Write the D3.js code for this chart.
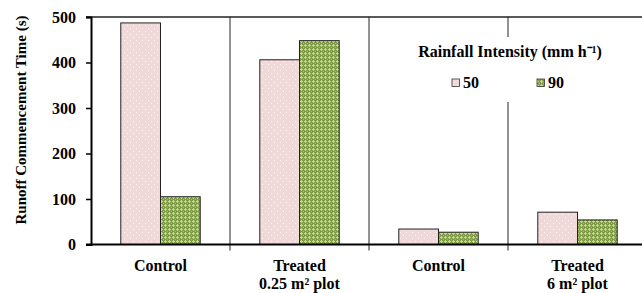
<!DOCTYPE html>
<html><head><meta charset="utf-8">
<script src="https://cdn.jsdelivr.net/npm/d3@7"></script>
<style>body{margin:0;background:#fff}svg{display:block}</style>
</head><body>
<script>
const categories = ["Control", "Treated|0.25 m² plot", "Control", "Treated|6 m² plot"];
const series = ["50", "90"];
const values50 = [487, 406, 34, 71];
const values90 = [105, 448, 27, 54];
const yTicks = [0, 100, 200, 300, 400, 500];
const yLabel = "Runoff Commencement Time (s)";
const legendTitle = "Rainfall Intensity (mm h\u207B\u00B9)";

const FONT = '"Liberation Serif", "Times New Roman", serif';
const W = 642, H = 293;
const m = {left: 91, top: 17, bottom: 244.5, right: 647};
const svg = d3.select("body").append("svg").attr("width", W).attr("height", H);
const txt = (sel, size) => sel.style("font-family", FONT).style("font-weight", "bold").style("font-size", size + "px").attr("fill", "#000");

const defs = svg.append("defs");
const pp = defs.append("pattern").attr("id","pinkP").attr("patternUnits","userSpaceOnUse").attr("width",6).attr("height",6);
pp.append("rect").attr("width",6).attr("height",6).attr("fill","#f1d9d9");
pp.append("rect").attr("x",1).attr("y",1).attr("width",1).attr("height",1).attr("fill","#fdf4f4");
pp.append("rect").attr("x",4).attr("y",4).attr("width",1).attr("height",1).attr("fill","#fdf4f4");
const gp = defs.append("pattern").attr("id","greenP").attr("patternUnits","userSpaceOnUse").attr("width",4).attr("height",4);
gp.append("rect").attr("width",4).attr("height",4).attr("fill","#7f9b48");
gp.append("rect").attr("x",1).attr("y",0).attr("width",1).attr("height",3).attr("fill","#c5d6a3");
gp.append("rect").attr("x",0).attr("y",1).attr("width",3).attr("height",1).attr("fill","#c5d6a3");
gp.append("rect").attr("x",3).attr("y",3).attr("width",1).attr("height",1).attr("fill","#a9bf80");

const x = d3.scaleBand().domain(d3.range(categories.length)).range([m.left, m.right]).paddingInner(0).paddingOuter(0);
const xs = d3.scaleBand().domain(series).range([0, x.bandwidth()]).paddingInner(0).paddingOuter(0.75);
const y = d3.scaleLinear().domain([0, 500]).range([m.bottom, m.top]);

// dividers
const divs = d3.range(1, categories.length + 1).map(i => m.left + i * x.bandwidth());
svg.append("g").selectAll("line").data(divs).join("line")
  .attr("x1", d => d).attr("x2", d => d).attr("y1", m.top).attr("y2", m.bottom + 6)
  .attr("stroke", "#6e6e6e").attr("stroke-width", 1.5);

// top line
svg.append("line").attr("x1", m.left - 5).attr("x2", m.right).attr("y1", y(500)).attr("y2", y(500))
  .attr("stroke", "#222").attr("stroke-width", 1.5);

// bars
const data = categories.map((c, i) => ({i, vals: [values50[i], values90[i]]}));
const fills = ["url(#pinkP)", "url(#greenP)"];
const g = svg.append("g");
data.forEach(d => {
  series.forEach((s, j) => {
    g.append("rect")
      .attr("x", x(d.i) + xs(s)).attr("width", xs.bandwidth())
      .attr("y", y(d.vals[j])).attr("height", y(0) - y(d.vals[j]))
      .attr("fill", fills[j]).attr("stroke", "#222").attr("stroke-width", 1);
  });
});

// y axis
const ya = svg.append("g").attr("transform", `translate(${m.left},0)`)
  .call(d3.axisLeft(y).tickValues(yTicks).tickSize(5).tickPadding(10));
ya.attr("font-family", null);
ya.select(".domain").attr("stroke", "#000").attr("stroke-width", 2);
ya.selectAll(".tick line").attr("stroke", "#000").attr("stroke-width", 1.5);
txt(ya.selectAll("text"), 16);

// x axis line
svg.append("line").attr("x1", m.left - 5).attr("x2", m.right).attr("y1", m.bottom).attr("y2", m.bottom)
  .attr("stroke", "#000").attr("stroke-width", 2);

// x labels
categories.forEach((c, i) => {
  const lines = c.split("|");
  const cx = x(i) + x.bandwidth() / 2;
  const t = txt(svg.append("text").attr("text-anchor", "middle").attr("x", cx).attr("y", 270.5), 16);
  lines.forEach((l, k) => t.append("tspan").attr("x", cx).attr("dy", k ? 18 : 0).text(l));
});

// y label
txt(svg.append("text").attr("transform", "translate(25.5,120) rotate(-90)").attr("text-anchor", "middle"), 15).text(yLabel);

// legend
svg.append("rect").attr("x", 410).attr("y", 37).attr("width", 200).attr("height", 65).attr("fill", "#fff");
txt(svg.append("text").attr("x", 510).attr("y", 56.5).attr("text-anchor", "middle"), 16).text(legendTitle);
const lx = [452, 537];
series.forEach((s, j) => {
  svg.append("rect").attr("x", lx[j]).attr("y", 79).attr("width", 7.5).attr("height", 7.5)
    .attr("fill", fills[j]).attr("stroke", "#333").attr("stroke-width", 0.8);
  txt(svg.append("text").attr("x", lx[j] + 11).attr("y", 88), 16).text(s);
});
</script>
</body></html>
